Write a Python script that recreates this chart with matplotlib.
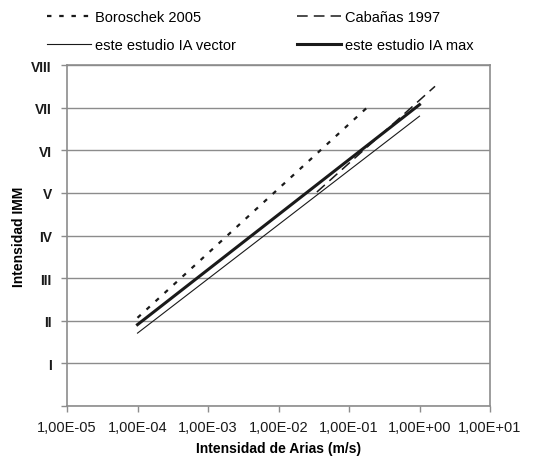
import numpy as np
import matplotlib
matplotlib.use('Agg')
import matplotlib.pyplot as plt

plt.rcParams['font.family'] = ['Liberation Sans', 'DejaVu Sans']

# data
ia_boroschek = [1e-4, 0.18]
imm_boroschek = [2.07, 7.0]
ia_cabanas = [0.035, 1.66]
imm_cabanas = [5.02, 7.5]
ia_vector = [1e-4, 1.0]
imm_vector = [1.71, 6.80]
ia_max = [1e-4, 1.0]
imm_max = [1.91, 7.07]

x_ticks = [1e-5, 1e-4, 1e-3, 1e-2, 1e-1, 1e0, 1e1]
x_labels = ['1,00E-05', '1,00E-04', '1,00E-03', '1,00E-02', '1,00E-01', '1,00E+00', '1,00E+01']
y_ticks = [0, 1, 2, 3, 4, 5, 6, 7, 8]
y_labels = ['', 'I', 'II', 'III', 'IV', 'V', 'VI', 'VII', 'VIII']

grey = '#8c8c8c'
ink = '#1a1a1a'

fig = plt.figure(figsize=(5.34, 4.6), dpi=100)
ax = fig.add_axes([0.1255, 0.1152, 0.7921, 0.7413])

l1, = ax.plot(ia_boroschek, imm_boroschek, color=ink, lw=1.6, linestyle=(0, (2, 3.5)), label='Boroschek 2005')
l2, = ax.plot(ia_cabanas, imm_cabanas, color=ink, lw=1.1, linestyle=(0, (7, 4)), label='Cabañas 1997')
l3, = ax.plot(ia_vector, imm_vector, color=ink, lw=0.8, label='este estudio IA vector')
l4, = ax.plot(ia_max, imm_max, color=ink, lw=2.2, label='este estudio IA max')

ax.set_xscale('log')
ax.set_xlim(1e-5, 1e1)
ax.set_ylim(0, 8)
ax.set_xticks(x_ticks)
ax.set_xticklabels(x_labels, fontsize=10.5)
ax.minorticks_off()
ax.set_yticks(y_ticks)
ax.set_yticklabels(y_labels, fontsize=10, fontweight='bold')
ax.yaxis.grid(True, color=grey, lw=1.0)
ax.set_axisbelow(True)
for s in ax.spines.values():
    s.set_color(grey)
    s.set_linewidth(1.2)
ax.tick_params(axis='both', colors=grey, length=4, width=1.0, labelcolor=ink)
ax.tick_params(axis='y', pad=7)
ax.tick_params(axis='x', pad=6)

ax.set_xlabel('Intensidad de Arias (m/s)', fontsize=10, fontweight='bold', labelpad=5)
ax.set_ylabel('Intensidad IMM', fontsize=10, fontweight='bold', labelpad=4)

fig.legend([l1, l3, l2, l4], [l1.get_label(), l3.get_label(), l2.get_label(), l4.get_label()],
           ncol=2, loc='upper left', bbox_to_anchor=(0.063, 1.005), frameon=False,
           fontsize=10.5, handlelength=3.0, handletextpad=0.3, columnspacing=4.2,
           labelspacing=0.95)

fig.savefig('out.png', dpi=100)
